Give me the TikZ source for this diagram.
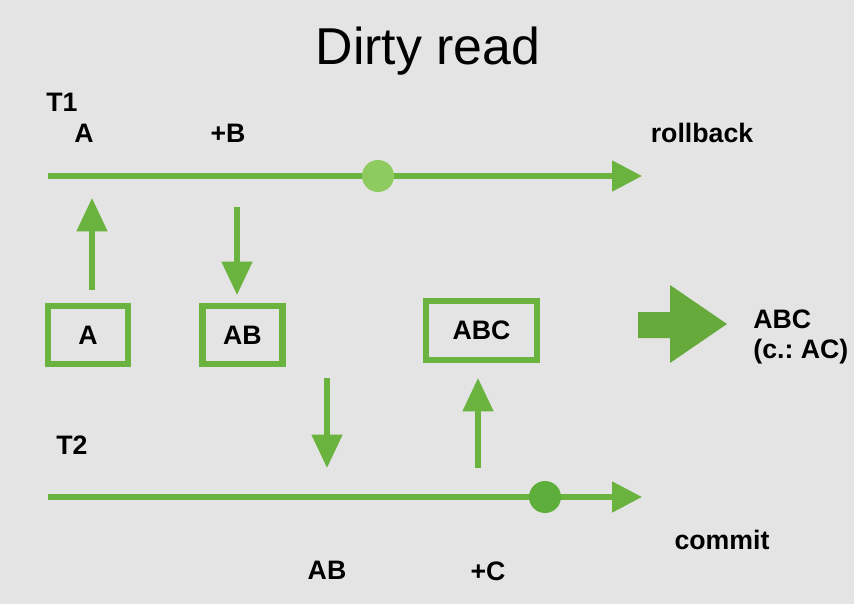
\documentclass[tikz,border=0pt]{standalone}
\usepackage{fontspec}
\setmainfont{Liberation Sans}
\usetikzlibrary{arrows.meta}
\definecolor{bg}{HTML}{E3E4E3}
\definecolor{grn}{HTML}{6AB33E}
\definecolor{dotA}{HTML}{8DCB5F}
\definecolor{dotB}{HTML}{5EAE3B}
\frenchspacing
\begin{document}
\begin{tikzpicture}[x=0.02cm, y=-0.02cm,
  lbl/.style={font=\bfseries\fontsize{15.2}{17}\selectfont, inner sep=0pt},
  tl/.style={grn, line width=2.9pt, -{Triangle[length=17pt,width=17pt]}},
  ar/.style={grn, line width=2.9pt, -{Triangle[length=19pt,width=17pt]}},
  box/.style={draw=grn, line width=3.6pt, minimum width=1.6cm, minimum height=1.16cm, lbl},
  dot/.style={circle, inner sep=0pt, minimum size=0.64cm}]
\fill[bg] (0,0) rectangle (854,604);
\useasboundingbox (0,0) rectangle (854,604);
% title
\node[font=\fontsize{29.5}{32}\selectfont] (title) at (428,51) {Dirty read};
% T1
\node[lbl] (t1) at (62,102) {T1};
\node[lbl] (la) at (84,133) {A};
\node[lbl] (lb) at (228,133) {+B};
\node[lbl] (rb) at (702,133) {rollback};
\coordinate (s1) at (48,176);
\coordinate (e1) at (642,176);
\draw[tl] (s1)--(e1);
\node[dot, fill=dotA] (d1) at (378,176) {};
% states
\node[box] (ba) at (88,335) {A};
\node[box] (bab) at (242.5,335) {AB};
\node[box, minimum width=2.22cm, minimum height=1.18cm] (babc) at (481.5,330.5) {ABC};
\coordinate (u1) at (92,290);
\coordinate (u2) at (92,198);
\draw[ar] (u1)--(u2);
\coordinate (w1) at (237,207);
\coordinate (w2) at (237,295);
\draw[ar] (w1)--(w2);
% result
\fill[grn!95!black] (638,312) -- (670,312) -- (670,285) -- (727,324) -- (670,363) -- (670,338) -- (638,338) -- cycle;
\node[lbl, align=left, anchor=west] (res) at (753,337) {ABC\\(c.: AC)};
% T2
\node[lbl] (t2) at (72,445) {T2};
\coordinate (s2) at (48,497);
\coordinate (e2) at (642,497);
\draw[tl] (s2)--(e2);
\node[dot, fill=dotB] (d2) at (545,497) {};
\coordinate (x1) at (327,378);
\coordinate (x2) at (327,468);
\draw[ar] (x1)--(x2);
\coordinate (y1) at (478,468);
\coordinate (y2) at (478,378);
\draw[ar] (y1)--(y2);
\node[lbl] (cm) at (722,540) {commit};
\node[lbl] (lab) at (327,570) {AB};
\node[lbl] (lc) at (488,571) {+C};
\end{tikzpicture}
\end{document}
